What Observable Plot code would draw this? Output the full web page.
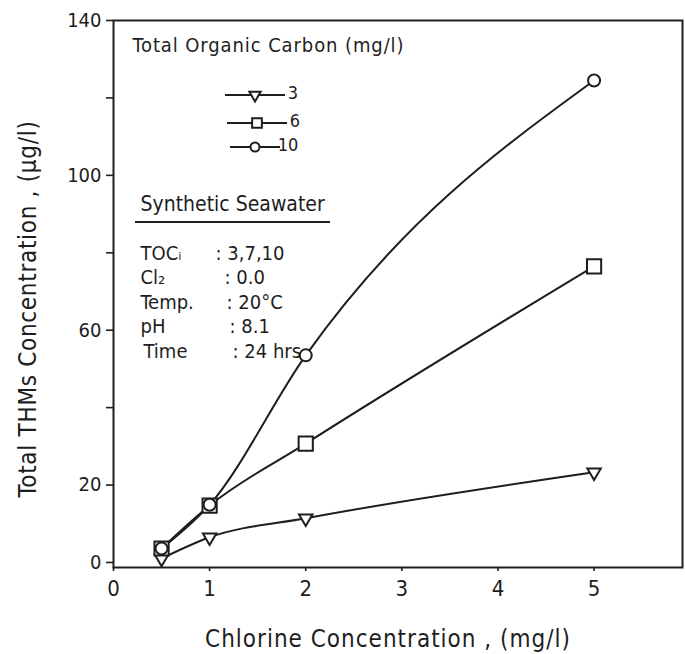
<!DOCTYPE html>
<html>
<head>
<meta charset="utf-8">
<script src="https://cdn.jsdelivr.net/npm/d3@7"></script>
<script src="https://cdn.jsdelivr.net/npm/@observablehq/plot@0.6"></script>
<style>
  html, body { margin: 0; padding: 0; background: #fff; }
  #chart svg { display: block; }
  .wide text { letter-spacing: 1px; }
  .wide-y text { letter-spacing: 0.7px; }
  .wide-t text { letter-spacing: 0.9px; }
</style>
</head>
<body>
<div id="chart"></div>
<script>
// Chlorine dose (mg/l) and total THMs formed (µg/l) for each TOC level
const chlorine = [0.5, 1, 2, 5];
const toc3 = [1.0, 6.5, 11.4, 23.3];
const toc6 = [3.6, 14.7, 30.7, 76.5];
const toc10 = [3.6, 14.9, 53.5, 124.5];
const seriesNames = ["3", "6", "10"];

const xTicks = [0, 1, 2, 3, 4, 5];
const yTicks = [0, 20, 40, 60, 80, 100, 120, 140];
const yTickLabels = [0, 20, 60, 100, 140];

const titleText = "Total Organic Carbon (mg/l)";
const boxTitle = "Synthetic Seawater";
const condNames = ["TOCᵢ", "Cl₂", "Temp.", "pH", "Time"];
const condValues = ["3,7,10", "0.0", "20°C", "8.1", "24 hrs"];
const xLabel = "Chlorine Concentration , (mg/l)";
const yLabel = "Total THMs Concentration , (µg/l)";

const ink = "#1e1e1e";
const font = "'DejaVu Sans Condensed', 'DejaVu Sans', sans-serif";

// downward-pointing triangle for d3.symbol / Plot.dot
const triangleDown = {
  draw(context, size) {
    const y = Math.sqrt(size / (3 * Math.sqrt(3)));
    context.moveTo(0, 2 * y);
    context.lineTo(-Math.sqrt(3) * y, -y);
    context.lineTo(Math.sqrt(3) * y, -y);
    context.closePath();
  }
};
const symbols = [triangleDown, d3.symbolSquare, d3.symbolCircle];
const dotR = [5, 8, 6];

const values = [toc3, toc6, toc10];
const rows = seriesNames.flatMap((s, i) =>
  chlorine.map((c, j) => ({series: s, chlorine: c, thm: values[i][j]}))
);

// left offsets of the colon column in the conditions box
const colonDx = [102, 111, 113, 116, 119];

const plot = Plot.plot({
  width: 685,
  height: 654,
  marginLeft: 113,
  marginTop: 20,
  marginRight: 3,
  marginBottom: 87,
  style: {fontFamily: font, color: ink, background: "#fff"},
  x: {domain: [0, 5.92]},
  y: {domain: [-1.3, 140]},
  marks: [
    Plot.frame({stroke: ink, strokeWidth: 2}),
    Plot.axisY({ticks: yTicks, tickSize: 7, tickPadding: 5, fontSize: 20, stroke: ink,
      strokeWidth: 1.6, tickFormat: d => yTickLabels.includes(d) ? String(d) : "", label: null}),
    Plot.axisX({ticks: xTicks, tickSize: 4, tickPadding: 9, fontSize: 22, stroke: ink,
      strokeWidth: 1.6, tickFormat: d => String(d), label: null}),
    Plot.line(rows, {x: "chlorine", y: "thm", z: "series", curve: "monotone-x",
      stroke: ink, strokeWidth: 2}),
    ...seriesNames.map((s, i) =>
      Plot.dot(rows.filter(d => d.series === s), {x: "chlorine", y: "thm",
        symbol: symbols[i], r: dotR[i], fill: "#fff", stroke: ink, strokeWidth: 2})
    ),
    // legend heading and experimental conditions box
    Plot.text([titleText], {frameAnchor: "top-left", text: d => d, dx: 19, dy: 25,
      textAnchor: "start", lineAnchor: "middle", fontSize: 20, fill: ink, className: "wide-t"}),
    Plot.text([boxTitle], {frameAnchor: "top-left", text: d => d, dx: 27, dy: 184,
      textAnchor: "start", lineAnchor: "middle", fontSize: 21, fill: ink}),
    ...condNames.map((n, i) => Plot.text([n], {frameAnchor: "top-left", text: d => d,
      dx: 27 + (i === 4 ? 3 : 0), dy: 233 + i * 24.5, textAnchor: "start", lineAnchor: "middle",
      fontSize: 20, fill: ink})),
    ...condValues.map((v, i) => Plot.text([": " + v], {frameAnchor: "top-left", text: d => d,
      dx: colonDx[i], dy: 233 + i * 24.5, textAnchor: "start", lineAnchor: "middle",
      fontSize: 20, fill: ink})),
    // axis titles
    Plot.text([yLabel], {frameAnchor: "left", text: d => d, rotate: -90, dx: -85, dy: 15,
      textAnchor: "middle", lineAnchor: "middle", fontSize: 24, fill: ink, className: "wide-y"}),
    Plot.text([xLabel], {frameAnchor: "bottom", text: d => d, dx: -10, dy: 72,
      textAnchor: "middle", lineAnchor: "middle", fontSize: 24, fill: ink, className: "wide"})
  ]
});

document.getElementById("chart").appendChild(plot);

// legend keys: short line with the series symbol in the middle
const svg = d3.select(plot);
const legendRows = [
  {name: seriesNames[0], y: 95, x1: 225, x2: 285, sym: symbols[0], r: 4.2},
  {name: seriesNames[1], y: 123, x1: 227, x2: 287, sym: symbols[1], r: 5.5},
  {name: seriesNames[2], y: 147, x1: 230, x2: 280, sym: symbols[2], r: 4.5}
];
const lg = svg.append("g").attr("stroke", ink).attr("stroke-width", 2);
legendRows.forEach(d => {
  lg.append("line").attr("x1", d.x1).attr("x2", d.x2).attr("y1", d.y).attr("y2", d.y);
  lg.append("path")
    .attr("transform", `translate(${(d.x1 + d.x2) / 2},${d.y})`)
    .attr("d", d3.symbol(d.sym, Math.PI * d.r * d.r)())
    .attr("fill", "#fff");
  svg.append("text").attr("x", d.x2 + 8).attr("y", d.y - 2).attr("dy", "0.32em")
    .attr("font-family", font).attr("font-size", 18).attr("fill", ink).text(d.name);
});
// underline beneath the conditions heading
svg.append("line").attr("x1", 135).attr("x2", 330).attr("y1", 222).attr("y2", 222)
  .attr("stroke", ink).attr("stroke-width", 2);
</script>
</body>
</html>
